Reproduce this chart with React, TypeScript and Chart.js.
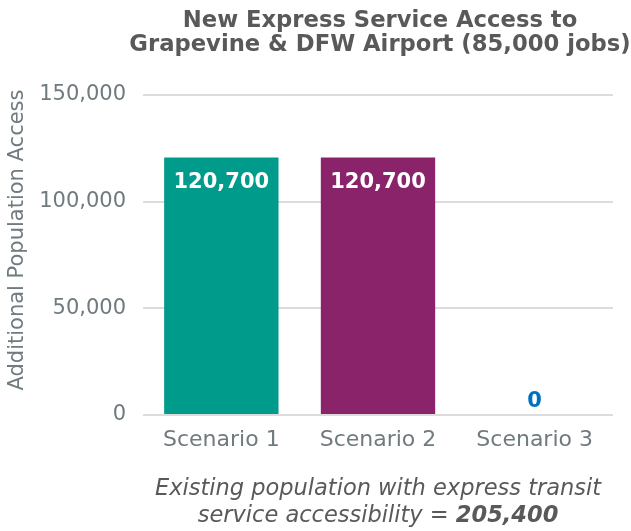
import { useEffect, useRef } from 'react';
import { Chart, registerables } from 'chart.js';

Chart.register(...registerables);

const categories = ['Scenario 1', 'Scenario 2', 'Scenario 3'];
const values = [120700, 120700, 0];
const barColors = ['#009B8A', '#8B236B', '#0070C0'];
const labelColors = ['#FFFFFF', '#FFFFFF', '#0070C0'];
const yTickValues = [0, 50000, 100000, 150000];
const titleLines = ['New Express Service Access to', 'Grapevine & DFW Airport (85,000 jobs)'];
const yAxisTitle = 'Additional Population Access';
const noteLine1 = 'Existing population with express transit';
const noteLine2Prefix = 'service accessibility = ';
const noteLine2Value = '205,400';

const FONT = '"DejaVu Sans", Verdana, sans-serif';
const GRAY = '#6F7B7E';
const DARK = '#595959';

const fmt = (v: number) => v.toLocaleString('en-US');

const extrasPlugin = {
  id: 'extras',
  afterDatasetsDraw(chart: any) {
    const { ctx } = chart;
    const meta = chart.getDatasetMeta(0);
    ctx.save();
    ctx.textAlign = 'center';
    ctx.textBaseline = 'alphabetic';
    ctx.font = `bold 21px ${FONT}`;
    meta.data.forEach((bar: any, i: number) => {
      const v = values[i];
      ctx.fillStyle = labelColors[i];
      if (v > 0) {
        ctx.fillText(fmt(v), bar.x, bar.y + 30);
      } else {
        ctx.fillText(fmt(v), bar.x, bar.base - 8);
      }
    });
    ctx.restore();
  },
  afterDraw(chart: any) {
    const { ctx, chartArea } = chart;
    const cx = (chartArea.left + chartArea.right) / 2;

    // chart title
    ctx.save();
    ctx.fillStyle = DARK;
    ctx.font = `bold 22.7px ${FONT}`;
    ctx.textAlign = 'center';
    ctx.textBaseline = 'alphabetic';
    ctx.fillText(titleLines[0], cx + 2, 27);
    ctx.fillText(titleLines[1], cx + 2, 51);
    ctx.restore();

    // y axis title
    ctx.save();
    ctx.fillStyle = GRAY;
    ctx.font = `21px ${FONT}`;
    ctx.textAlign = 'center';
    ctx.textBaseline = 'middle';
    ctx.translate(18, 240);
    ctx.rotate(-Math.PI / 2);
    ctx.fillText(yAxisTitle, 0, 0);
    ctx.restore();

    // footnote
    ctx.save();
    ctx.fillStyle = DARK;
    ctx.textBaseline = 'alphabetic';
    ctx.textAlign = 'center';
    const fPre = `italic 22.5px ${FONT}`;
    const fVal = `italic bold 22.5px ${FONT}`;
    ctx.font = fPre;
    ctx.fillText(noteLine1, cx, 495);
    const w1 = ctx.measureText(noteLine2Prefix).width;
    ctx.font = fVal;
    const w2 = ctx.measureText(noteLine2Value).width;
    const start = cx - (w1 + w2) / 2;
    ctx.textAlign = 'left';
    ctx.font = fPre;
    ctx.fillText(noteLine2Prefix, start, 522);
    ctx.font = fVal;
    ctx.fillText(noteLine2Value, start + w1, 522);
    ctx.restore();
  },
};

export default function App() {
  const ref = useRef<HTMLCanvasElement>(null);
  useEffect(() => {
    if (!ref.current) return;
    const chart = new Chart(ref.current, {
      type: 'bar',
      data: {
        labels: categories,
        datasets: [
          {
            data: values,
            backgroundColor: barColors,
            borderWidth: 0,
            barPercentage: 0.73,
            categoryPercentage: 1,
          },
        ],
      },
      options: {
        responsive: false,
        animation: false,
        layout: { padding: { left: 0, right: 18, top: 95, bottom: 0 } },
        plugins: {
          legend: { display: false },
          tooltip: { enabled: false },
          title: { display: false },
        },
        scales: {
          x: {
            grid: { display: false, drawTicks: false },
            border: { display: false },
            ticks: { color: GRAY, font: { family: FONT, size: 22 }, padding: 12 },
            afterFit: (s: any) => { s.height = 116; },
          },
          y: {
            min: 0,
            max: 150000,
            afterBuildTicks: (s: any) => { s.ticks = yTickValues.map((v) => ({ value: v })); },
            grid: { color: '#DCDCDC', lineWidth: 2, drawTicks: false },
            border: { display: false },
            ticks: {
              color: GRAY,
              font: { family: FONT, size: 21 },
              padding: 17,
              callback: (v: any) => fmt(Number(v)),
            },
            afterFit: (s: any) => { s.width = 143; },
          },
        },
      },
      plugins: [extrasPlugin],
    });
    return () => chart.destroy();
  }, []);
  return (
    <div style={{ position: 'fixed', left: 0, top: 0, width: 631, height: 531 }}>
      <canvas ref={ref} width={631} height={531} />
    </div>
  );
}
